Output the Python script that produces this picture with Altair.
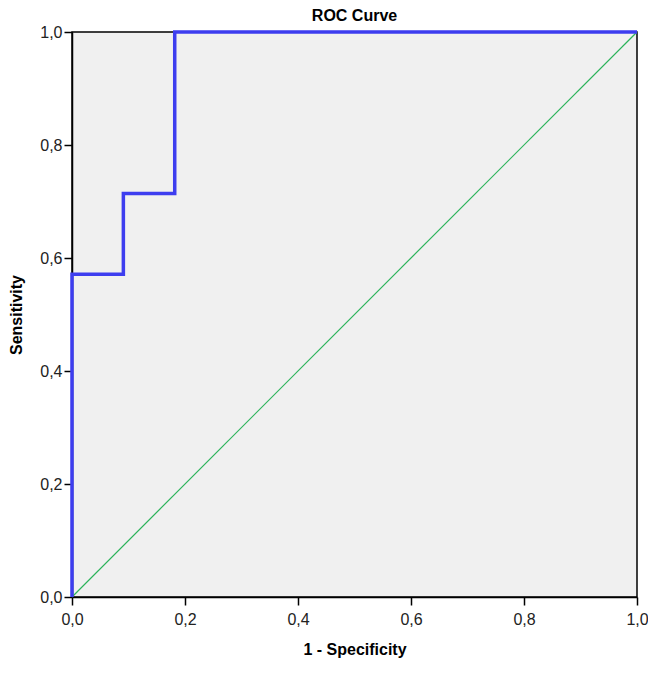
import altair as alt
import pandas as pd

# ROC curve step points (1 - specificity, sensitivity)
roc_fpr = [0.0, 0.0, 1/11, 1/11, 2/11, 2/11, 1.0]
roc_tpr = [0.0, 4/7, 4/7, 5/7, 5/7, 1.0, 1.0]
ref_x = [0.0, 1.0]
ref_y = [0.0, 1.0]
ticks = [0.0, 0.2, 0.4, 0.6, 0.8, 1.0]

roc = pd.DataFrame({"x": roc_fpr, "y": roc_tpr, "o": list(range(len(roc_fpr)))})
ref = pd.DataFrame({"x": ref_x, "y": ref_y, "o": [0, 1]})

FONT = "Liberation Sans"
lab = "replace(format(datum.value, '.1f'), '.', ',')"

xs = alt.Scale(domain=[0, 1], nice=False, zero=False)
ys = alt.Scale(domain=[0, 1], nice=False, zero=False)

xax = alt.Axis(values=ticks, labelExpr=lab, title="1 - Specificity", grid=False,
               tickSize=8, tickColor="black", domainColor="black", domainWidth=1.5,
               tickWidth=1.5, labelFont=FONT, labelFontSize=16, labelColor="#222",
               labelFlush=False, labelPadding=6, titleFont=FONT, titleFontSize=16,
               titleFontWeight="bold", titleColor="black", titlePadding=14)
yax = alt.Axis(values=ticks, labelExpr=lab, title="Sensitivity", grid=False,
               tickSize=8, tickColor="black", domainColor="black", domainWidth=1.5,
               tickWidth=1.5, labelFont=FONT, labelFontSize=16, labelColor="#222",
               labelFlush=False, labelPadding=2, titleFont=FONT, titleFontSize=16,
               titleFontWeight="bold", titleColor="black", titlePadding=15)

diag = alt.Chart(ref).mark_line(color="#2bb35a", strokeWidth=1.2).encode(
    x=alt.X("x:Q", scale=xs, axis=xax),
    y=alt.Y("y:Q", scale=ys, axis=yax),
    order="o:Q",
)
curve = alt.Chart(roc).mark_line(color="#3d3def", strokeWidth=3.5, interpolate="linear").encode(
    x=alt.X("x:Q", scale=xs, axis=xax),
    y=alt.Y("y:Q", scale=ys, axis=yax),
    order="o:Q",
)

chart = (diag + curve).properties(
    width=565, height=565,
    title=alt.TitleParams("ROC Curve", font=FONT, fontSize=16, fontWeight="bold",
                          color="black", offset=0),
    autosize=alt.AutoSizeParams(type="none"),
    padding={"left": 64, "top": 24, "right": 11, "bottom": 62},
).configure(
    background="white",
    view=alt.ViewConfig(fill="#f0f0f0", stroke="black", strokeWidth=1.5),
)

chart.save("out.html", embed_options={"renderer": "svg", "actions": False})
